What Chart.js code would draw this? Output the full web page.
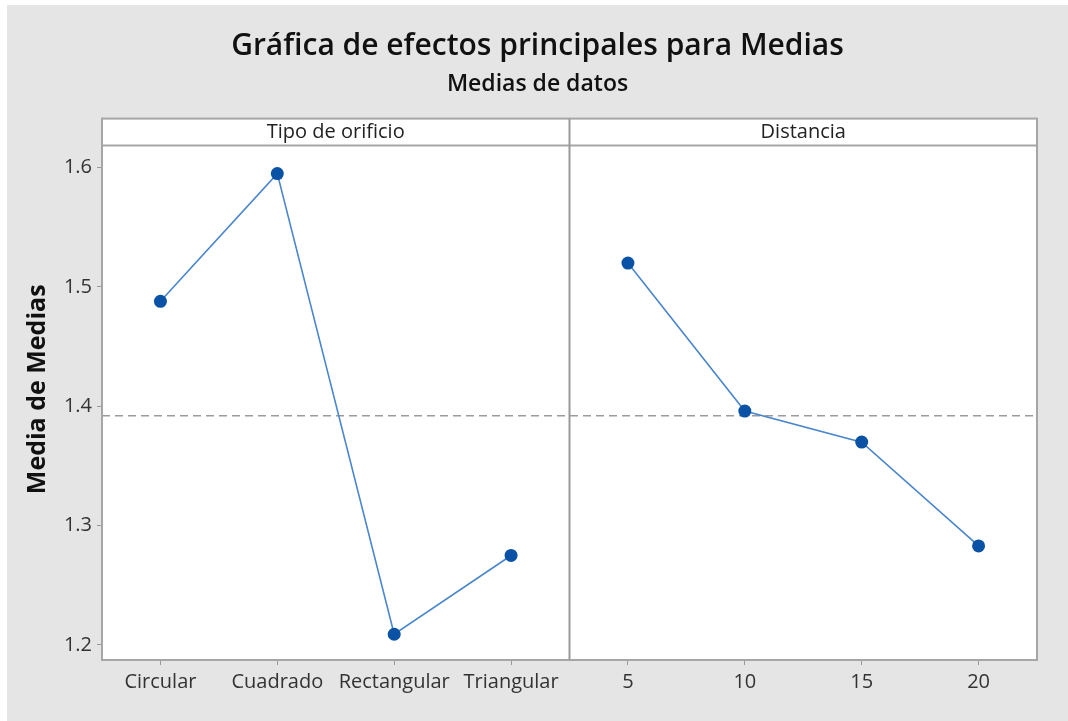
<!DOCTYPE html>
<html>
<head>
<meta charset="utf-8">
<script src="https://cdn.jsdelivr.net/npm/chart.js@4/dist/chart.umd.min.js"></script>
<style>
  html, body { margin: 0; padding: 0; background: #ffffff; }
  #wrap { position: absolute; left: 7px; top: 5px; width: 1061px; height: 716px; background: #e5e5e5; }
</style>
</head>
<body>
<div id="wrap"><canvas id="efectos"></canvas></div>
<script>
// --- datos ---
var tipoLabels = ['Circular', 'Cuadrado', 'Rectangular', 'Triangular'];
var tipoMedias = [1.488, 1.595, 1.209, 1.275];
var distLabels = ['5', '10', '15', '20'];
var distMedias = [1.520, 1.396, 1.370, 1.283];
var panelTitles = ['Tipo de orificio', 'Distancia'];
var yTicks = [1.2, 1.3, 1.4, 1.5, 1.6];
var mediaGeneral = 1.392;

var fontFam = '"Open Sans", "Noto Sans", sans-serif';
var xLabels = tipoLabels.concat(distLabels);

// puntos de cada panel: panel 1 en x 0..4, panel 2 en x 4..8
var tipoPts = tipoMedias.map(function(v, i) { return { x: i + 0.5, y: v }; });
var distPts = distMedias.map(function(v, i) { return { x: i + 4.5, y: v }; });

// fondo blanco, marco, cabeceras de panel y separador
var panelPlugin = {
  id: 'paneles',
  beforeDatasetsDraw: function(chart) {
    var a = chart.chartArea;
    chart.ctx.save();
    chart.ctx.fillStyle = '#ffffff';
    chart.ctx.fillRect(a.left, a.top, a.right - a.left, a.bottom - a.top);
    chart.ctx.restore();
  },
  afterDatasetsDraw: function(chart) {
    var ctx = chart.ctx;
    var a = chart.chartArea;
    var xs = chart.scales.x;
    var headH = 27;
    var midX = xs.getPixelForValue(4);
    ctx.save();
    ctx.fillStyle = '#ffffff';
    ctx.fillRect(a.left, a.top, a.right - a.left, headH);
    ctx.strokeStyle = '#a6a6a6';
    ctx.lineWidth = 2;
    ctx.strokeRect(a.left, a.top, a.right - a.left, a.bottom - a.top);
    ctx.beginPath();
    ctx.moveTo(a.left, a.top + headH);
    ctx.lineTo(a.right, a.top + headH);
    ctx.stroke();
    ctx.strokeStyle = '#9a9a9a';
    ctx.beginPath();
    ctx.moveTo(midX, a.top);
    ctx.lineTo(midX, a.bottom);
    ctx.stroke();
    ctx.fillStyle = '#222222';
    ctx.font = '20px ' + fontFam;
    ctx.textAlign = 'center';
    ctx.textBaseline = 'middle';
    ctx.fillText(panelTitles[0], (a.left + midX) / 2, a.top + headH / 2);
    ctx.fillText(panelTitles[1], (midX + a.right) / 2, a.top + headH / 2);
    ctx.restore();
  }
};

new Chart(document.getElementById('efectos'), {
  type: 'line',
  data: {
    datasets: [
      {
        label: 'Tipo de orificio',
        data: tipoPts,
        borderColor: '#4a86cc',
        borderWidth: 1.6,
        pointRadius: 6.5,
        pointBackgroundColor: '#0a52a5',
        pointBorderWidth: 0,
        tension: 0
      },
      {
        label: 'Distancia',
        data: distPts,
        borderColor: '#4a86cc',
        borderWidth: 1.6,
        pointRadius: 6.5,
        pointBackgroundColor: '#0a52a5',
        pointBorderWidth: 0,
        tension: 0
      },
      {
        label: 'Media',
        data: [{ x: 0, y: mediaGeneral }, { x: 8, y: mediaGeneral }],
        borderColor: '#9b9b9b',
        borderWidth: 1.5,
        borderDash: [8, 5],
        pointRadius: 0
      }
    ]
  },
  options: {
    responsive: true,
    maintainAspectRatio: false,
    animation: false,
    layout: { padding: 0 },
    plugins: {
      legend: { display: false },
      tooltip: { enabled: false },
      title: {
        display: true,
        text: 'Gráfica de efectos principales para Medias',
        color: '#111111',
        font: { family: fontFam, size: 30, weight: '600' },
        padding: { top: 23, bottom: 7 }
      },
      subtitle: {
        display: true,
        text: 'Medias de datos',
        color: '#111111',
        font: { family: fontFam, size: 23, weight: '600' },
        padding: { top: 0, bottom: 20 }
      }
    },
    scales: {
      x: {
        type: 'linear',
        min: 0,
        max: 8,
        afterBuildTicks: function(scale) {
          scale.ticks = xLabels.map(function(l, i) { return { value: i + 0.5 }; });
        },
        afterFit: function(scale) { scale.height = 61; },
        ticks: {
          autoSkip: false,
          maxRotation: 0,
          padding: 5,
          color: '#333333',
          font: { family: fontFam, size: 20 },
          callback: function(v, i) { return xLabels[i]; }
        },
        grid: { drawOnChartArea: false, drawTicks: true, tickLength: 5, color: '#9a9a9a' },
        border: { display: true, color: '#a6a6a6', width: 2 }
      },
      y: {
        min: 1.1874,
        max: 1.6411,
        afterBuildTicks: function(scale) {
          scale.ticks = yTicks.map(function(v) { return { value: v }; });
        },
        afterFit: function(scale) { scale.width = 95; },
        ticks: {
          padding: 5,
          color: '#333333',
          font: { family: fontFam, size: 20 },
          callback: function(v) { return v.toFixed(1); }
        },
        grid: { drawOnChartArea: false, drawTicks: true, tickLength: 5, color: '#9a9a9a' },
        border: { display: true, color: '#a6a6a6', width: 2 },
        title: {
          display: true,
          text: 'Media de Medias',
          color: '#111111',
          font: { family: fontFam, size: 25, weight: 'bold' },
          padding: { top: 16, bottom: 0 }
        }
      },
      // eje vacio a la derecha, solo reserva el margen
      yDer: {
        position: 'right',
        display: true,
        afterFit: function(scale) { scale.width = 31; },
        ticks: { display: false },
        grid: { display: false },
        border: { display: false }
      }
    }
  },
  plugins: [panelPlugin]
});
</script>
</body>
</html>
